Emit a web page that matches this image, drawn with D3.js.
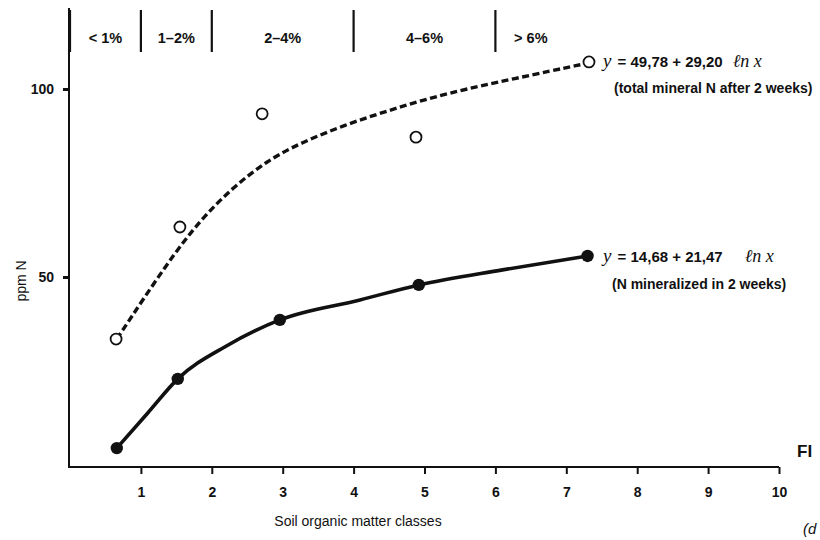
<!DOCTYPE html>
<html><head><meta charset="utf-8">
<script src="https://cdn.jsdelivr.net/npm/d3@7/dist/d3.min.js"></script>
<style>body{margin:0;background:#fff}svg{display:block}text{font-family:"Liberation Sans",Arial,sans-serif;fill:#111}</style>
</head><body>
<script>
// data
const xTicks = [1,2,3,4,5,6,7,8,9,10];
const yTicks = [50,100];
const classBounds = [0,1,2,4,6];
const classLabels = ["< 1%","1–2%","2–4%","4–6%","> 6%"];
const classCenters = [0.5,1.5,3,5,6.5];
const totalX = [0.65,1.55,2.71,4.88,7.32];
const totalY = [33.5,63.3,93.4,87.2,107.2];
const totalCurveX = [0.66,1.37,1.83,2.30,2.78,3.24,3.95,4.65,5.32,6.25,7.31];
const totalCurveY = [33.5,53.7,65.0,73.9,80.9,85.6,91.0,95.2,98.9,102.7,106.9];
const minX = [0.66,1.52,2.96,4.92,7.30];
const minY = [4.5,22.9,38.6,47.9,55.6];
const minCurveX = [0.66,1.10,1.52,2.20,2.96,4.09,4.92,6.10,7.30];
const minCurveY = [4.5,13.9,22.9,31.6,38.6,43.9,47.9,51.9,55.6];

const W=820,H=540;
const svg=d3.select("body").append("svg").attr("width",W).attr("height",H);
const x=d3.scaleLinear().domain([0,10]).range([70,779]);
const y=d3.scaleLinear().domain([0,100]).range([465,89]);

// axes
const xa=svg.append("g").attr("transform","translate(0,467)")
  .call(d3.axisBottom(x).tickValues(xTicks).tickSize(7).tickPadding(13).tickFormat(d3.format("d")));
xa.select(".domain").attr("d","M69,0H779").attr("stroke","#111").attr("stroke-width",2);
xa.selectAll(".tick line").attr("stroke","#111").attr("stroke-width",2);
xa.selectAll(".tick text").attr("font-size",14).attr("font-weight","bold").attr("fill","#111");

const ya=svg.append("g").attr("transform","translate(69,0)")
  .call(d3.axisLeft(y).tickValues(yTicks).tickSize(6).tickPadding(9));
ya.select(".domain").attr("d","M0,8V468").attr("stroke","#111").attr("stroke-width",2);
ya.selectAll(".tick line").attr("stroke","#111").attr("stroke-width",3);
ya.selectAll(".tick text").attr("font-size",14).attr("font-weight","bold").attr("fill","#111");

// class dividers
svg.append("g").selectAll("line").data(classBounds).join("line")
  .attr("x1",d=>x(d)).attr("x2",d=>x(d)).attr("y1",10).attr("y2",52)
  .attr("stroke","#111").attr("stroke-width",2.2);
svg.append("g").selectAll("text").data(classLabels).join("text")
  .attr("x",(d,i)=>x(classCenters[i])).attr("y",43).attr("text-anchor","middle")
  .attr("font-size",14.5).attr("font-weight","bold").text(d=>d);

// curves
svg.append("path").attr("d",d3.line().curve(d3.curveBasis)(totalCurveX.map((v,i)=>[x(v),y(totalCurveY[i])])))
  .attr("fill","none").attr("stroke","#111").attr("stroke-width",3.4).attr("stroke-dasharray","7,3.5");
svg.append("path").attr("d",d3.line().curve(d3.curveMonotoneX)(minCurveX.map((v,i)=>[x(v),y(minCurveY[i])])))
  .attr("fill","none").attr("stroke","#111").attr("stroke-width",3.6);

// points
svg.append("g").selectAll("circle").data(totalX).join("circle")
  .attr("cx",d=>x(d)).attr("cy",(d,i)=>y(totalY[i])).attr("r",5.5)
  .attr("fill","#fff").attr("stroke","#111").attr("stroke-width",1.8);
svg.append("g").selectAll("circle").data(minX).join("circle")
  .attr("cx",d=>x(d)).attr("cy",(d,i)=>y(minY[i])).attr("r",6.2)
  .attr("fill","#111");

// equations
function eq(px,py,txt,gap){
  const t=svg.append("text").attr("x",px).attr("y",py).attr("font-size",15).attr("font-weight","bold");
  t.append("tspan").attr("font-family","Liberation Serif,serif").attr("font-style","italic").attr("font-weight","normal").attr("font-size",19).text("y");
  t.append("tspan").attr("dx",2).text(txt);
  t.append("tspan").attr("font-family","Liberation Serif,serif").attr("font-style","italic").attr("font-weight","normal").attr("font-size",18).attr("dx",gap).text("ℓn  x");
}
eq(603,67," = 49,78 + 29,20",10);
svg.append("text").attr("x",614).attr("y",93).attr("font-size",14).attr("font-weight","bold").text("(total mineral N after 2 weeks)");
eq(603,262," = 14,68 + 21,47",22);
svg.append("text").attr("x",612).attr("y",289).attr("font-size",14).attr("font-weight","bold").text("(N mineralized in 2 weeks)");

// axis titles
svg.append("text").attr("x",358).attr("y",526).attr("text-anchor","middle").attr("font-size",14).text("Soil organic matter classes");
svg.append("text").attr("transform","translate(26,281) rotate(-90)").attr("text-anchor","middle").attr("font-size",14).text("ppm N");

// cropped fragments
svg.append("text").attr("x",797).attr("y",457).attr("font-size",17).attr("font-weight","bold").text("FI");
svg.append("text").attr("x",803).attr("y",534).attr("font-size",15).attr("font-style","italic").attr("font-family","Liberation Serif,serif").text("(d");
</script>
</body></html>
